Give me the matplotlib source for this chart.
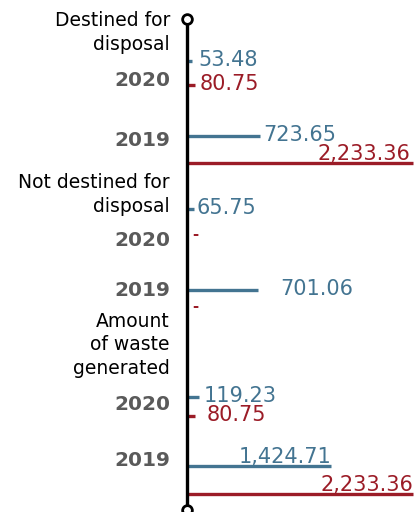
import numpy as np
import matplotlib
matplotlib.use("Agg")
import matplotlib.pyplot as plt

# data
groups = ["Destined for\ndisposal", "Not destined for\ndisposal", "Amount\nof waste\ngenerated"]
years = ["2020", "2019"]
blue_vals = [[53.48, 723.65], [65.75, 701.06], [119.23, 1424.71]]
red_vals = [[80.75, 2233.36], [np.nan, np.nan], [80.75, 2233.36]]

BLUE = "#437491"
RED = "#9b1c27"
GRAY = "#5a5a5a"

# layout (pixels from top, per group)
label_top = [11, 173, 312]
year_y = [[80, 140], [240, 291], [405, 461]]
row_y = [[61, 85, 136, 163], [209, 234, 290, 306], [397, 416, 466, 494]]
# label offsets: positive = to the right of bar end, negative = above bar end, right aligned
label_dx = [[6, 4, 3, -5], [3, 4, 22, 4], [5, 11, -2, -2]]

W, H = 419, 512
fig = plt.figure(figsize=(W / 100, H / 100), dpi=100)
ax = fig.add_axes([0, 0, 1, 1])
x0 = 187
k = 2233.36 / 226.0
ax.set_xlim(-x0 * k, (W - x0) * k)
ax.set_ylim(H, 0)
ax.axis("off")

fs = 13.5
vfs = 15

def fmt(v):
    return "{:,.2f}".format(v)

def value_label(v, y, dx, color):
    if dx < 0:
        ax.annotate(fmt(v), (v, y), xytext=(dx + 2, 9), textcoords="offset pixels",
                    ha="right", va="center", fontsize=vfs, color=color)
    else:
        ax.annotate(fmt(v), (v, y), xytext=(dx, 1), textcoords="offset pixels",
                    ha="left", va="center", fontsize=vfs, color=color)

for g, name in enumerate(groups):
    ax.text(-17 * k, label_top[g], name, ha="right", va="top", fontsize=fs,
            color="black", linespacing=1.3)
    ys = row_y[g]
    for j, yr in enumerate(years):
        yb = ys[2 * j]
        yr_ = ys[2 * j + 1]
        ax.text(-17 * k, year_y[g][j], yr, ha="right", va="center", fontsize=14.5,
                fontweight="bold", color=GRAY)
        bv = blue_vals[g][j]
        ax.plot([0, bv], [yb, yb], color=BLUE, lw=2.4, solid_capstyle="butt")
        value_label(bv, yb, label_dx[g][2 * j], BLUE)
        rv = red_vals[g][j]
        if np.isnan(rv):
            ax.annotate("-", (0, yr_), xytext=(5, 0), textcoords="offset pixels",
                        ha="left", va="center", fontsize=fs * 0.8, color=RED,
                        fontweight="bold")
            continue
        ax.plot([0, rv], [yr_, yr_], color=RED, lw=2.4, solid_capstyle="butt")
        value_label(rv, yr_, label_dx[g][2 * j + 1], RED)

# vertical axis with end circles
ax.plot([0, 0], [19, 510], color="black", lw=2.4, zorder=3)
ax.plot([0, 0], [19, 510], ls="none", marker="o", ms=7, mfc="white", mec="black",
        mew=2, zorder=4, clip_on=False)

fig.savefig("out.png", dpi=100)
